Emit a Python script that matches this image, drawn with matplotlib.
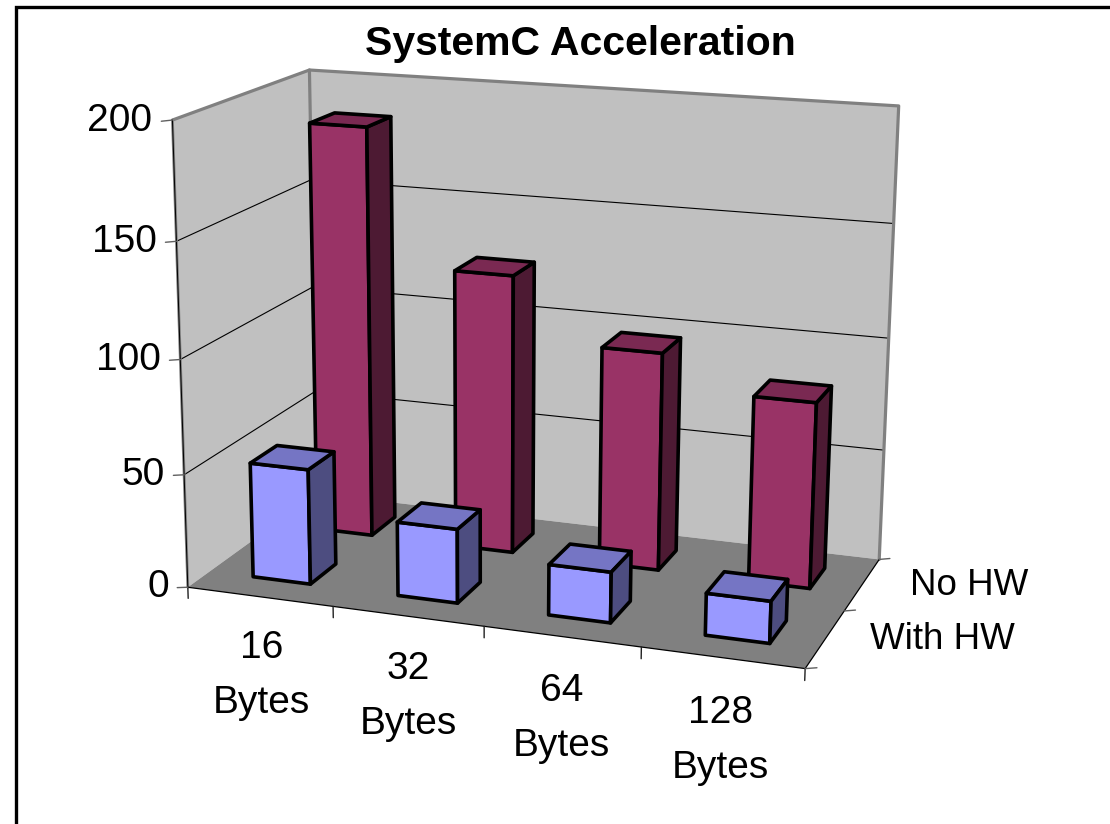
import numpy as np
import matplotlib
matplotlib.use("Agg")
import matplotlib.pyplot as plt
from matplotlib.patches import Rectangle
from mpl_toolkits.mplot3d import Axes3D
from mpl_toolkits.mplot3d.art3d import Poly3DCollection

# ---- data ----
categories = ["16\nBytes", "32\nBytes", "64\nBytes", "128\nBytes"]
series = ["With HW", "No HW"]
with_hw = [51, 32.5, 22, 18]
no_hw = [185, 125, 97, 82]
z_ticks = [0, 50, 100, 150, 200]

# ---- style ----
W, H = 1110, 824
BAR_FRAC = 0.40
BAR_SHIFT_X, BAR_SHIFT_Y = 0.005, 0.015
FRONT = ("#9999FF", "#7575C4", "#4D4D80")
BACK = ("#993366", "#7A2952", "#4D1A33")
WALL, FLOOR, BORDER = "#C0C0C0", "#808080", "#808080"
FONT = "Liberation Sans"

nx, ny, zmax = len(categories), len(series), max(z_ticks)

# Camera of the original perspective box, fitted on its visible corners
box_corners = [(0, 0, 0), (nx, 0, 0), (nx, ny, 0), (0, ny, 0),
               (0, 0, zmax), (0, ny, zmax), (nx, ny, zmax)]
box_pixels = [(190.7, 587), (805, 669), (880, 559), (314, 494),
              (169.5, 120), (312.7, 70), (898, 106)]
rows = []
for (x, y, z), (u, v) in zip(box_corners, box_pixels):
    v = H - v
    rows.append([x, y, z, 1, 0, 0, 0, 0, -u * x, -u * y, -u * z, -u])
    rows.append([0, 0, 0, 0, x, y, z, 1, -v * x, -v * y, -v * z, -v])
CAM = np.linalg.svd(np.array(rows, float))[2][-1].reshape(3, 4)

fig = plt.figure(figsize=(W / 100, H / 100), dpi=100, facecolor="white")
ax = fig.add_axes([0, -(W - H) / 2 / H, 1, W / H], projection="3d")
ax.set_axis_off()
ax.patch.set_alpha(0)
ax.computed_zorder = False


def camera_proj():
    lim = ax.viewLim
    sx = lim.width / W
    sy = lim.height / W
    off = (W - H) / 2
    M = np.array([CAM[0], CAM[1], [0, 1, 0, 0], CAM[2]], float)
    S = np.array([[sx, 0, 0, lim.x0],
                  [0, sy, 0, lim.y0 + off * sy],
                  [0, 0, 1, 0],
                  [0, 0, 0, 1]], float)
    return S @ M


ax.get_proj = camera_proj
ax.set_xlim(0, nx)
ax.set_ylim(0, ny)
ax.set_zlim(0, zmax)
ax.set_xticks([])
ax.set_yticks([])
ax.set_zticks([])
for axis in (ax.xaxis, ax.yaxis, ax.zaxis):
    axis.set_visible(False)


def poly(verts, fc, ec="none", lw=0.0, zo=1):
    c = Poly3DCollection(verts, facecolors=fc, edgecolors=ec, linewidths=lw, zorder=zo)
    c.set_joinstyle("round")
    ax.add_collection3d(c, autolim=False)


def line(xs, ys, zs, color="black", lw=0.8, zo=3):
    ax.plot(xs, ys, zs, color=color, lw=lw, zorder=zo, solid_capstyle="round", scalex=False, scaley=False)


def label(x, y, z, s, **kw):
    """Place a text at a box position, through the same camera as the marks."""
    u, v, w = CAM @ np.array([x, y, z, 1.0])
    fig.text(u / w / W, v / w / H, s, family=FONT, color="black", zorder=20, **kw)


# walls and floor
poly([[(0, 0, 0), (0, ny, 0), (0, ny, zmax), (0, 0, zmax)]], WALL, zo=1)
poly([[(0, ny, 0), (nx, ny, 0), (nx, ny, zmax), (0, ny, zmax)]], WALL, zo=1)
poly([[(0, 0, 0), (nx, 0, 0), (nx, ny, 0), (0, ny, 0)]], FLOOR, zo=2)

# gridlines
for t in z_ticks[1:-1]:
    line([0, 0, nx], [0, ny, ny], [t, t, t], lw=0.8)

# wall outline
line([0, 0, nx, nx], [0, ny, ny, ny], [zmax, zmax, zmax, 0], color=BORDER, lw=2.3, zo=3)
line([0, 0], [ny, ny], [0, zmax], color=BORDER, lw=2.3, zo=3)
line([0, 0], [0, 0], [0, zmax], color=BORDER, lw=2.0, zo=3)
line([0, 0], [0, 0], [0, zmax], color="black", lw=0.7, zo=3)

# floor edge and ticks
line([0, nx, nx], [0, 0, ny], [0, 0, 0], lw=0.9, zo=3)
for i in range(nx + 1):
    line([i, i], [0, 0], [0, -5], color="#202020", lw=1.0, zo=3)
for j in range(ny + 1):
    line([nx, nx + 0.07], [j, j], [0, 1], color="#606060", lw=1.0, zo=3)
for t in z_ticks:
    line([0, -0.075], [0, 0], [t, t - 0.8], color="#606060", lw=1.0, zo=3)


def bar(i, j, h, colors, zo):
    a = (1 - BAR_FRAC) / 2
    x0, x1 = i + a + BAR_SHIFT_X, i + 1 - a + BAR_SHIFT_X
    y0, y1 = j + a + BAR_SHIFT_Y, j + 1 - a + BAR_SHIFT_Y
    front = [(x0, y0, 0), (x1, y0, 0), (x1, y0, h), (x0, y0, h)]
    top = [(x0, y0, h), (x1, y0, h), (x1, y1, h), (x0, y1, h)]
    side = [(x1, y0, 0), (x1, y1, 0), (x1, y1, h), (x1, y0, h)]
    poly([front, top, side], list(colors), ec="black", lw=2.6, zo=zo)


# back row first, then front row
for i, h in enumerate(no_hw):
    bar(i, 1, h, BACK, 5 + i)
for i, h in enumerate(with_hw):
    bar(i, 0, h, FRONT, 10 + i)

# text
for t in z_ticks:
    label(-0.135, 0, t - 1, str(t), ha="right", va="center", fontsize=28)
for i, c in enumerate(categories):
    label(i + 0.5, 0, -35.5, c, ha="center", va="center", fontsize=28, linespacing=1.68)
for j, s, lx in zip(range(ny), series, (nx + 0.27, nx + 0.305)):
    label(lx, j + 0.5, 2, s, ha="left", va="center", fontsize=26.5)

fig.text(580 / W, 1 - 44 / H, "SystemC Acceleration", ha="center", va="center",
         family=FONT, fontweight="bold", fontsize=29.5)

# chart frame, running off the right and bottom of the picture
fig.add_artist(Rectangle((15.7 / W, -0.1), 1.2, 1.1 - 6.5 / H, transform=fig.transFigure,
                         fill=False, ec="black", lw=2.4, zorder=50))

fig.savefig("out.png", dpi=100)
